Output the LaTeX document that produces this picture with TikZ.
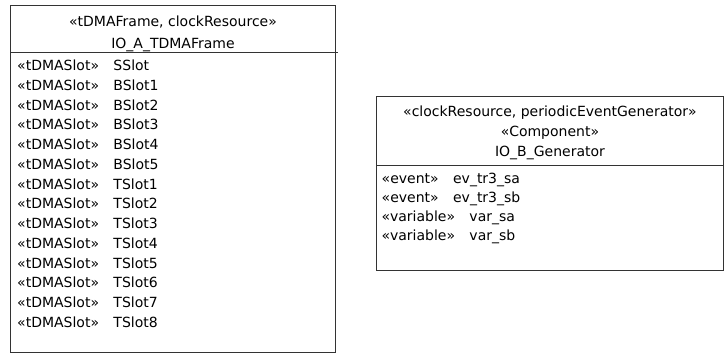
\documentclass[tikz,border=0pt]{standalone}
\usepackage{fontspec}
\setmainfont{DejaVu Sans}
\tikzset{
  umlbox/.style={draw=black!80, line width=1pt, inner sep=0pt, outer sep=0pt, anchor=north west},
  sepline/.style={draw=black!80, line width=1pt},
  txt/.style={font=\fontsize{14}{16}\selectfont, inner sep=0pt, anchor=base west, text=black},
  hdr/.style={font=\fontsize{14}{16}\selectfont, inner sep=0pt, anchor=base, text=black},
}
\begin{document}
\begin{tikzpicture}[x=1pt,y=-1pt]
\useasboundingbox (0,0) rectangle (724,354);
% left class box
\node[umlbox, minimum width=325.5pt, minimum height=347pt] (A) at (10,5) {};
\coordinate (a1) at (10,52.5);
\coordinate (a2) at (337.5,52.5);
\draw[sepline] (a1) -- (a2);
\node[hdr] (ah1) at (173,26) {«tDMAFrame, clockResource»};
\node[hdr] (ah2) at (173,48) {IO\_A\_TDMAFrame};
\foreach \n [count=\i from 0] in {SSlot,BSlot1,BSlot2,BSlot3,BSlot4,BSlot5,TSlot1,TSlot2,TSlot3,TSlot4,TSlot5,TSlot6,TSlot7,TSlot8} {
  \node[txt] (as\i) at (17,{70.5+\i*19.77}) {«tDMASlot»};
  \node[txt] (an\i) at ([xshift=14pt]as\i.base east) {\n};
}
% right class box
\node[umlbox, minimum width=347pt, minimum height=174pt] (B) at (376,96) {};
\coordinate (b1) at (376,165);
\coordinate (b2) at (723,165);
\draw[sepline] (b1) -- (b2);
\node[hdr] (bh1) at (550,116) {«clockResource, periodicEventGenerator»};
\node[hdr] (bh2) at (550,136) {«Component»};
\node[hdr] (bh3) at (550,156) {IO\_B\_Generator};
\node[txt] (bs1) at (381.5,183) {«event»};
\node[txt] (bn1) at ([xshift=14pt]bs1.base east) {ev\_tr3\_sa};
\node[txt] (bs2) at (381.5,202) {«event»};
\node[txt] (bn2) at ([xshift=14pt]bs2.base east) {ev\_tr3\_sb};
\node[txt] (bs3) at (381.5,221) {«variable»};
\node[txt] (bn3) at ([xshift=14pt]bs3.base east) {var\_sa};
\node[txt] (bs4) at (381.5,240) {«variable»};
\node[txt] (bn4) at ([xshift=14pt]bs4.base east) {var\_sb};
\end{tikzpicture}
\end{document}
